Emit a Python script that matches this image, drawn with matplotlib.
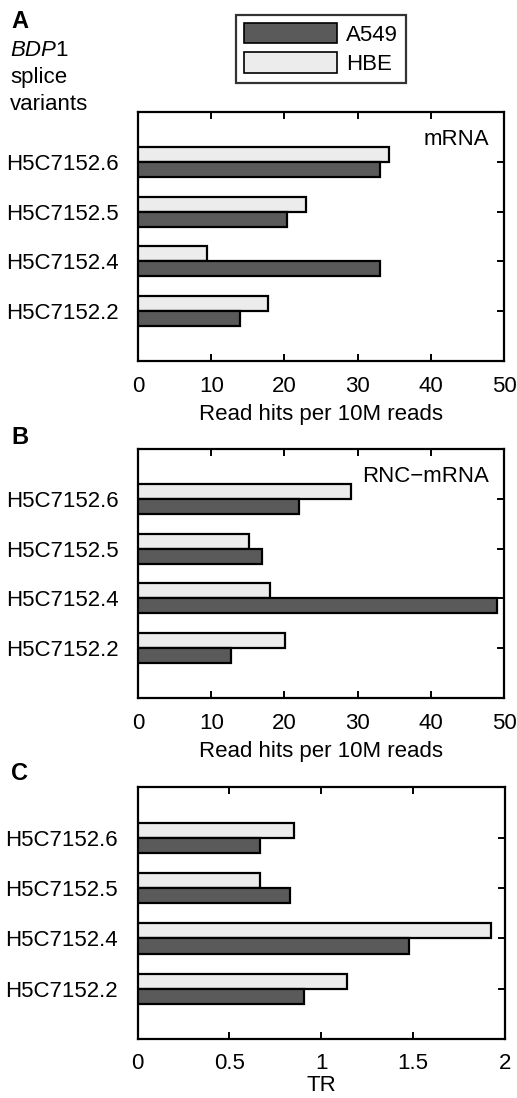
import matplotlib
matplotlib.use("Agg")
import matplotlib.pyplot as plt
from matplotlib.patches import Patch

plt.rcParams['font.family'] = ['Liberation Sans', 'DejaVu Sans']

variants = ["H5C7152.6", "H5C7152.5", "H5C7152.4", "H5C7152.2"]

mrna_a549 = [33.1, 20.4, 33.1, 14.0]
mrna_hbe = [34.3, 22.9, 9.4, 17.7]

rnc_a549 = [22.0, 16.9, 49.0, 12.7]
rnc_hbe = [29.1, 15.2, 18.0, 20.1]

tr_a549 = [0.664, 0.831, 1.478, 0.904]
tr_hbe = [0.849, 0.668, 1.926, 1.14]

dark = "#5a5a5a"
light = "#ececec"
fs = 16

fig = plt.figure(figsize=(5.17, 10.98), dpi=100)


def panel(rect, a549, hbe, xmax, xticks, xticklabels, xlabel, tag=None,
          xpad=11, lpad=5):
    ax = fig.add_axes(rect)
    pos = list(range(1, len(variants) + 1))
    h = 0.3
    ax.barh([p - h / 2 for p in pos], hbe, height=h, color=light,
            edgecolor="black", linewidth=1.6, zorder=3)
    ax.barh([p + h / 2 for p in pos], a549, height=h, color=dark,
            edgecolor="black", linewidth=1.6, zorder=3)
    ax.set_ylim(5, 0)
    ax.set_xlim(0, xmax)
    ax.set_yticks(pos)
    ax.set_yticklabels(variants, fontsize=fs)
    ax.set_xticks(xticks)
    ax.set_xticklabels(xticklabels, fontsize=fs)
    ax.set_xlabel(xlabel, fontsize=fs, labelpad=lpad)
    ax.tick_params(axis="both", direction="in", length=5, width=1.4,
                   top=True, right=True)
    ax.tick_params(axis="y", pad=14)
    ax.tick_params(axis="x", pad=xpad)
    for s in ax.spines.values():
        s.set_linewidth(1.6)
    if tag:
        ax.text(0.96, 0.89, tag, transform=ax.transAxes, ha="right",
                va="center", fontsize=fs)
    return ax


w = 0.708
panel([0.2669, 0.6712, w, 0.2268], mrna_a549, mrna_hbe, 50,
      [0, 10, 20, 30, 40, 50], ["0", "10", "20", "30", "40", "50"],
      "Read hits per 10M reads", "mRNA")
panel([0.2669, 0.3643, w, 0.2268], rnc_a549, rnc_hbe, 50,
      [0, 10, 20, 30, 40, 50], ["0", "10", "20", "30", "40", "50"],
      "Read hits per 10M reads", "RNC\u2212mRNA")
panel([0.2660, 0.0537, 0.7108, 0.2291], tr_a549, tr_hbe, 2,
      [0, 0.5, 1, 1.5, 2], ["0", "0.5", "1", "1.5", "2"], "TR",
      xpad=10, lpad=1)

# panel letters
fig.text(11 / 517, 1 - 21 / 1098, "A", fontsize=17, fontweight="bold", va="center")
fig.text(11 / 517, 1 - 437 / 1098, "B", fontsize=17, fontweight="bold", va="center")
fig.text(11 / 517, 1 - 774 / 1098, "C", fontsize=17, fontweight="bold", va="center")

fig.text(10 / 517, 1 - 51 / 1098, "BDP", fontsize=fs, style="italic", va="center")
fig.text(55 / 517, 1 - 51 / 1098, "1", fontsize=fs, va="center")
fig.text(10 / 517, 1 - 78 / 1098, "splice", fontsize=fs, va="center")
fig.text(10 / 517, 1 - 104 / 1098, "variants", fontsize=fs, va="center")

handles = [Patch(facecolor=dark, edgecolor="black", linewidth=1.2, label="A549"),
           Patch(facecolor=light, edgecolor="black", linewidth=1.2, label="HBE")]
leg = fig.legend(handles=handles, loc="center", bbox_to_anchor=(321 / 517, 1 - 49 / 1098),
                 fontsize=fs, frameon=True, fancybox=False, edgecolor="black",
                 handlelength=4.2, handleheight=1.05, handletextpad=0.4,
                 borderpad=0.35, labelspacing=0.3)
leg.get_frame().set_linewidth(1.6)

fig.savefig("out.png", dpi=100)
